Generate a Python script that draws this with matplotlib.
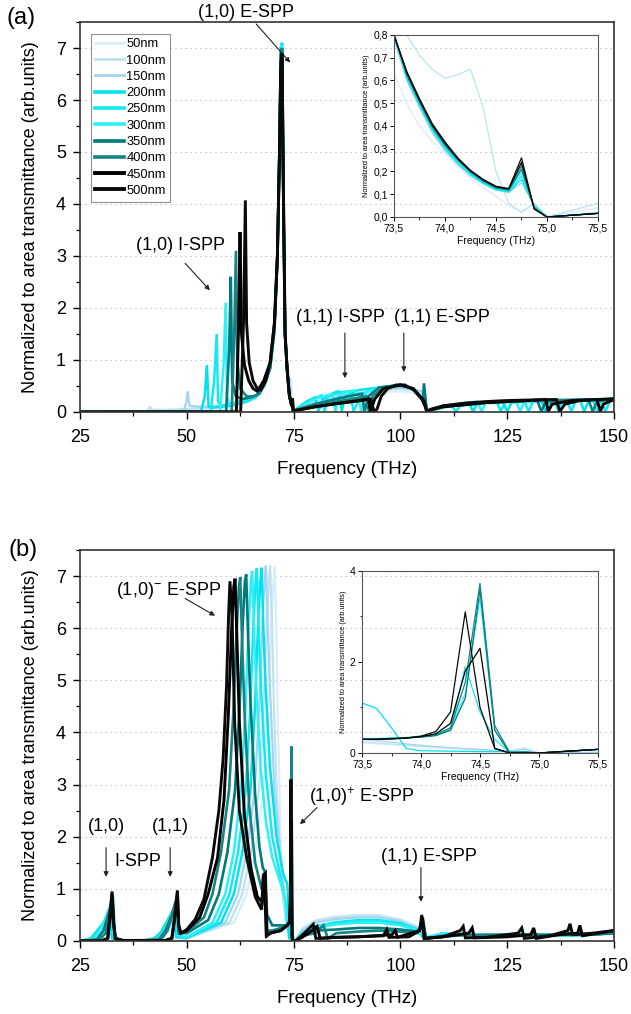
import matplotlib
matplotlib.use("Agg")
import matplotlib.pyplot as plt
from matplotlib.ticker import MultipleLocator

plt.rcParams['font.family'] = ['Liberation Sans', 'DejaVu Sans']
plt.rcParams['mathtext.fontset'] = 'custom'
plt.rcParams['mathtext.rm'] = 'Liberation Sans'
plt.rcParams['mathtext.it'] = 'Liberation Sans:italic'

# ---------------- legend / series meta ----------------
LABELS = ['50nm', '100nm', '150nm', '200nm', '250nm', '300nm', '350nm', '400nm', '450nm', '500nm']
COLORS = ['#d9eef9', '#bde2f3', '#a5d5ee', '#00e2ee', '#14e9f2', '#2ef0f6', '#007a7d', '#168484', '#000000', '#0a0a0a']

# ---------------- panel (a) main data ----------------
A_F_050 = [25, 40, 45, 50, 55, 60, 63, 66, 68, 69.5, 70.5, 71.2, 71.7, 72.0, 72.3, 72.6, 73.0, 73.5, 74.0, 74.5, 74.75, 74.875, 75.0, 75.5, 80, 85, 90, 95, 100, 105, 106.5, 110, 120, 130, 140, 150]
A_V_050 = [0, 0.01, 0.02, 0.04, 0.06, 0.1, 0.15, 0.25, 0.45, 0.8, 1.5, 2.8, 4.8, 6.6, 6.9, 4.0, 1.5, 0.63, 0.28, 0.09, 0.025, 0.06, 0.005, 0.04, 0.15, 0.25, 0.32, 0.38, 0.4, 0.35, 0.02, 0.1, 0.15, 0.18, 0.2, 0.22]

A_F_100 = [25, 40.6, 41.4, 42.0, 45, 50, 55, 60, 63, 66, 68, 69.5, 70.5, 71.2, 71.7, 72.0, 72.3, 72.6, 73.0, 73.5, 74.0, 74.25, 74.375, 74.5, 74.625, 74.75, 74.875, 75.0, 75.5, 80, 85, 90, 95, 100, 105, 106.5, 110, 120, 130, 140, 150]
A_V_100 = [0, 0.01, 0.09, 0.04, 0.04, 0.06, 0.08, 0.12, 0.18, 0.3, 0.5, 0.85, 1.6, 2.9, 5.0, 6.8, 7.0, 4.5, 1.6, 0.95, 0.61, 0.65, 0.48, 0.2, 0.06, 0.02, 0.06, 0.0, 0.06, 0.2, 0.3, 0.36, 0.42, 0.45, 0.4, 0.02, 0.12, 0.18, 0.2, 0.22, 0.25]

A_F_150 = [25, 49.3, 49.9, 50.2, 50.6, 53, 57, 60, 63, 66, 68, 69.5, 70.5, 71.2, 71.7, 72.0, 72.3, 72.6, 73.0, 73.5, 74.0, 74.5, 74.75, 74.875, 75.0, 75.5, 80, 85, 90, 95, 100, 105, 106.5, 110, 120, 130, 140, 150]
A_V_150 = [0, 0.02, 0.2, 0.4, 0.12, 0.1, 0.12, 0.15, 0.2, 0.28, 0.5, 0.85, 1.6, 3.0, 5.1, 6.9, 7.05, 4.3, 1.5, 0.78, 0.29, 0.118, 0.15, 0.05, 0.0, 0.02, 0.18, 0.28, 0.35, 0.42, 0.47, 0.4, 0.02, 0.12, 0.18, 0.2, 0.22, 0.25]

A_F_200 = [25, 53.3, 54.2, 54.7, 55.1, 56, 58, 60, 62, 64, 66, 68, 69.5, 70.5, 71.2, 71.7, 72.0, 72.3, 72.6, 73.0, 73.5, 74.0, 74.5, 74.625, 74.75, 74.875, 75.0, 75.5, 78, 80, 80.8, 82, 84, 85.5, 86.3, 87, 89, 90, 95, 100, 103, 105.5, 106.5, 110, 116, 117, 118, 124, 125, 126, 133, 134, 135, 142, 143, 144, 150]
A_V_200 = [0, 0.0, 0.3, 0.9, 0.1, 0.08, 0.1, 0.12, 0.16, 0.2, 0.28, 0.5, 0.85, 1.6, 3.0, 5.2, 7.0, 7.1, 4.2, 1.5, 0.8, 0.30, 0.12, 0.11, 0.165, 0.05, 0.0, 0.05, 0.2, 0.28, 0.02, 0.25, 0.35, 0.4, 0.02, 0.3, 0.38, 0.42, 0.47, 0.5, 0.45, 0.2, 0.01, 0.1, 0.18, 0.01, 0.17, 0.2, 0.01, 0.18, 0.22, 0.01, 0.2, 0.24, 0.01, 0.2, 0.25]

A_F_250 = [25, 55.6, 56.4, 57.0, 57.3, 58, 60, 62, 64, 66, 68, 69.5, 70.5, 71.2, 71.7, 72.0, 72.3, 72.6, 73.0, 73.5, 74.0, 74.5, 74.625, 74.75, 74.875, 75.0, 75.5, 79, 81.5, 82.3, 83, 86, 88.3, 89, 91, 93, 95, 100, 103, 105.5, 106.5, 112, 113, 114, 122.5, 123.5, 124.5, 129, 130, 131, 139, 140, 141, 147, 148, 149, 150]
A_V_250 = [0, 0.0, 0.6, 1.5, 0.2, 0.12, 0.14, 0.18, 0.22, 0.28, 0.5, 0.85, 1.6, 3.0, 5.2, 7.0, 7.1, 4.2, 1.5, 0.8, 0.305, 0.123, 0.112, 0.18, 0.045, 0.0, 0.05, 0.22, 0.32, 0.01, 0.3, 0.38, 0.4, 0.01, 0.35, 0.42, 0.47, 0.52, 0.45, 0.22, 0.01, 0.12, 0.01, 0.12, 0.2, 0.01, 0.2, 0.22, 0.01, 0.2, 0.23, 0.01, 0.22, 0.24, 0.01, 0.2, 0.24]

A_F_300 = [25, 57.8, 58.6, 59.1, 59.4, 60, 62, 64, 66, 68, 69.5, 70.5, 71.2, 71.7, 72.0, 72.3, 72.6, 73.0, 73.5, 74.0, 74.5, 74.625, 74.75, 74.875, 75.0, 75.5, 80, 84, 84.8, 85.5, 88, 90, 90.8, 92, 95, 100, 103, 105.5, 106.5, 110, 118, 119, 120, 127, 128, 129, 136, 137, 138, 145, 146, 147, 150]
A_V_300 = [0, 0.0, 0.9, 2.1, 0.3, 0.15, 0.2, 0.25, 0.3, 0.5, 0.85, 1.6, 3.0, 5.2, 7.0, 7.05, 4.2, 1.5, 0.8, 0.31, 0.126, 0.115, 0.195, 0.045, 0.0, 0.05, 0.25, 0.35, 0.01, 0.32, 0.4, 0.42, 0.01, 0.38, 0.47, 0.52, 0.45, 0.22, 0.01, 0.12, 0.2, 0.01, 0.2, 0.22, 0.01, 0.2, 0.23, 0.01, 0.22, 0.24, 0.01, 0.2, 0.25]

A_F_350 = [25, 59.2, 59.9, 60.3, 60.6, 61.5, 63, 65, 66.5, 68, 69.5, 70.5, 71.2, 71.7, 72.0, 72.3, 72.6, 73.0, 73.5, 74.0, 74.5, 74.625, 74.75, 74.875, 75.0, 75.5, 80, 85, 89, 91, 91.6, 92.5, 95, 100, 103, 105.3, 105.5, 106.2, 107, 110, 120, 130, 132, 133, 134, 140, 145, 150]
A_V_350 = [0, 0.0, 1.2, 2.6, 0.6, 0.3, 0.25, 0.28, 0.33, 0.5, 0.85, 1.6, 3.0, 5.2, 6.9, 7.0, 4.2, 1.5, 0.8, 0.315, 0.128, 0.118, 0.21, 0.04, 0.0, 0.04, 0.15, 0.25, 0.32, 0.35, 0.01, 0.3, 0.47, 0.52, 0.45, 0.22, 0.55, 0.01, 0.04, 0.1, 0.18, 0.22, 0.23, 0.01, 0.2, 0.22, 0.24, 0.26]

A_F_400 = [25, 60.5, 61.1, 61.5, 61.8, 62.5, 64, 65.5, 67, 68.5, 69.5, 70.5, 71.2, 71.7, 72.0, 72.3, 72.6, 73.0, 73.5, 74.0, 74.5, 74.625, 74.75, 74.875, 75.0, 75.5, 80, 85, 90, 92, 92.6, 93.5, 96, 100, 103, 105.5, 106.2, 107, 110, 120, 130, 144, 145, 146, 150]
A_V_400 = [0, 0.0, 1.5, 3.1, 1.0, 0.45, 0.3, 0.3, 0.35, 0.6, 0.85, 1.55, 2.9, 5.0, 6.8, 7.0, 4.2, 1.5, 0.8, 0.32, 0.13, 0.12, 0.225, 0.04, 0.0, 0.03, 0.12, 0.2, 0.27, 0.3, 0.01, 0.3, 0.47, 0.52, 0.45, 0.22, 0.01, 0.04, 0.1, 0.18, 0.22, 0.24, 0.01, 0.2, 0.26]

A_F_450 = [25, 61.6, 62.1, 62.45, 62.8, 63.5, 64.5, 65.5, 66.5, 68, 69.5, 70.5, 71.2, 71.7, 72.0, 72.3, 72.6, 73.0, 73.5, 74.0, 74.5, 74.625, 74.75, 74.875, 75.0, 75.5, 80, 85, 90, 92.5, 93, 94, 96, 100, 103, 105.5, 106.2, 107, 110, 120, 130, 134, 134.6, 135.5, 140, 146, 146.8, 147.5, 150]
A_V_450 = [0, 0.0, 1.6, 3.46, 1.5, 0.9, 0.6, 0.45, 0.4, 0.6, 0.95, 1.7, 3.0, 5.0, 6.7, 6.9, 4.3, 1.5, 0.8, 0.325, 0.133, 0.123, 0.24, 0.035, 0.0, 0.03, 0.1, 0.16, 0.22, 0.25, 0.01, 0.25, 0.45, 0.52, 0.45, 0.22, 0.0, 0.04, 0.1, 0.18, 0.22, 0.24, 0.01, 0.15, 0.22, 0.24, 0.01, 0.15, 0.24]

A_F_500 = [25, 62.6, 63.3, 63.7, 64.0, 64.6, 65.5, 66.5, 67.3, 68.5, 69.5, 70.5, 71.2, 71.7, 72.0, 72.3, 72.6, 73.0, 73.5, 74.0, 74.5, 74.625, 74.75, 74.875, 75.0, 75.5, 80, 85, 90, 93, 93.8, 94.5, 95.5, 97, 99, 101, 103, 105, 105.8, 106.2, 107, 110, 115, 120, 125, 130, 136.5, 137.3, 138.5, 142, 147, 150]
A_V_500 = [0, 0.0, 1.8, 4.07, 1.7, 0.95, 0.6, 0.45, 0.42, 0.6, 0.95, 1.7, 3.0, 4.9, 6.5, 6.8, 4.3, 1.5, 0.8, 0.33, 0.135, 0.125, 0.26, 0.035, 0.0, 0.03, 0.1, 0.16, 0.21, 0.25, 0.02, 0.05, 0.3, 0.45, 0.52, 0.52, 0.43, 0.25, 0.1, 0.0, 0.05, 0.12, 0.17, 0.2, 0.22, 0.23, 0.24, 0.01, 0.15, 0.22, 0.24, 0.25]

# ---------------- panel (b) main data ----------------
B_F_050 = [25, 27, 29, 30.5, 31.5, 32.0, 32.5, 35, 40, 42, 44, 45.5, 46.5, 47.0, 47.5, 50, 61, 64, 66, 68, 69, 69.8, 70.3, 70.6, 71.0, 71.3, 72, 72.5, 73.5, 74.0, 74.5, 74.75, 74.875, 75.0, 75.5, 77, 80, 85, 90, 95, 100, 104, 105, 106, 110, 120, 130, 140, 150]
B_V_050 = [0, 0.02, 0.1, 0.18, 0.25, 0.3, 0.05, 0.02, 0.02, 0.04, 0.1, 0.2, 0.3, 0.35, 0.05, 0.05, 0.35, 0.9, 1.7, 2.9, 4.4, 6.1, 6.9, 7.18, 5.9, 4.3, 1.8, 0.8, 0.22, 0.12, 0.05, 0.04, 0.12, 0.0, 0.01, 0.25, 0.4, 0.48, 0.5, 0.5, 0.42, 0.28, 0.12, 0.08, 0.15, 0.12, 0.12, 0.12, 0.15]

B_F_100 = [25, 27, 29, 30.5, 31.5, 32.0, 32.5, 35, 40, 42, 44, 45.5, 46.5, 47.0, 47.5, 50, 60, 63, 65, 66.9, 67.9, 68.7, 69.2, 69.5, 70.0, 70.3, 71, 72, 72.7, 73.5, 74.0, 74.5, 74.75, 74.875, 75.0, 75.5, 77, 80, 85, 90, 95, 100, 104, 105, 106, 110, 120, 130, 140, 150]
B_V_100 = [0, 0.03, 0.12, 0.2, 0.3, 0.35, 0.05, 0.02, 0.02, 0.05, 0.12, 0.25, 0.35, 0.4, 0.06, 0.05, 0.35, 0.9, 1.7, 2.9, 4.4, 6.1, 6.9, 7.2, 5.9, 4.8, 2.9, 1.5, 0.7, 0.22, 0.13, 0.05, 0.04, 0.1, 0.0, 0.01, 0.22, 0.38, 0.45, 0.48, 0.48, 0.4, 0.26, 0.12, 0.08, 0.15, 0.12, 0.12, 0.12, 0.15]

B_F_150 = [25, 27, 29, 30.5, 31.5, 32.0, 32.5, 35, 40, 42, 44, 45.5, 46.5, 47.0, 47.5, 50, 59, 62, 64, 65.9, 66.9, 67.7, 68.2, 68.5, 69.0, 69.5, 70.5, 72, 73, 73.5, 74.0, 74.5, 74.75, 74.875, 75.0, 75.5, 77, 80, 85, 90, 95, 100, 104, 105, 106, 110, 120, 130, 140, 150]
B_V_150 = [0, 0.03, 0.15, 0.25, 0.35, 0.4, 0.05, 0.02, 0.02, 0.05, 0.15, 0.3, 0.4, 0.45, 0.06, 0.05, 0.35, 0.9, 1.7, 2.9, 4.4, 6.1, 6.9, 7.2, 5.9, 4.8, 2.9, 1.6, 0.8, 0.25, 0.15, 0.05, 0.04, 0.1, 0.0, 0.01, 0.2, 0.35, 0.42, 0.45, 0.45, 0.38, 0.25, 0.12, 0.08, 0.15, 0.12, 0.12, 0.12, 0.15]

B_F_200 = [25, 27.5, 29, 30.5, 31.5, 32.0, 32.5, 35, 40, 42.5, 44, 45.5, 46.5, 47.0, 47.5, 50, 58, 61, 63, 64.9, 65.9, 66.7, 67.2, 67.5, 68.0, 68.5, 69.5, 71, 72.5, 73.5, 73.625, 73.75, 73.875, 74.0, 74.5, 74.75, 75.0, 75.5, 77, 80, 85, 90, 95, 100, 104, 105, 106, 110, 120, 130, 140, 150]
B_V_200 = [0, 0.05, 0.2, 0.35, 0.5, 0.6, 0.05, 0.01, 0.01, 0.05, 0.18, 0.4, 0.55, 0.6, 0.08, 0.06, 0.35, 0.9, 1.7, 2.9, 4.4, 6.1, 6.9, 7.16, 5.8, 4.8, 3.3, 2.0, 1.3, 1.1, 0.98, 0.55, 0.1, 0.05, 0.04, 0.03, 0.0, 0.02, 0.15, 0.28, 0.36, 0.4, 0.4, 0.34, 0.22, 0.1, 0.05, 0.14, 0.1, 0.12, 0.1, 0.15]

B_F_250 = [25, 28, 29.5, 30.8, 31.7, 32.3, 32.8, 35, 40, 43, 44.5, 46, 46.8, 47.3, 47.8, 50, 57, 60, 62, 63.8, 64.8, 65.6, 66.1, 66.4, 66.9, 67.4, 68.5, 70, 71.5, 72.5, 73.2, 73.5, 74.0, 74.25, 74.375, 74.5, 74.625, 74.75, 75.0, 75.5, 77, 80, 85, 90, 95, 100, 104, 105, 106, 110, 120, 130, 140, 150]
B_V_250 = [0, 0.05, 0.2, 0.4, 0.6, 0.7, 0.05, 0.01, 0.01, 0.05, 0.2, 0.45, 0.6, 0.68, 0.1, 0.07, 0.35, 0.9, 1.7, 2.9, 4.4, 6.1, 6.9, 7.15, 5.8, 4.8, 3.2, 2.0, 1.4, 1.0, 0.7, 0.35, 0.36, 0.5, 1.9, 0.9, 0.3, 0.02, 0.0, 0.02, 0.15, 0.28, 0.35, 0.38, 0.38, 0.32, 0.22, 0.1, 0.05, 0.14, 0.1, 0.12, 0.1, 0.15]

B_F_300 = [25, 28.5, 30, 31.2, 32.0, 32.5, 33.0, 35, 40, 43.5, 45, 46.3, 47.0, 47.5, 48.0, 50, 56, 59, 61, 62.7, 63.7, 64.5, 65.0, 65.3, 65.8, 66.3, 67.3, 68.5, 70, 72, 73.0, 73.5, 74.0, 74.25, 74.375, 74.5, 74.625, 74.75, 75.0, 75.5, 77, 80, 85, 90, 95, 100, 104, 105, 106, 110, 115, 120, 125, 130, 135, 140, 145, 150]
B_V_300 = [0, 0.05, 0.25, 0.45, 0.65, 0.75, 0.05, 0.01, 0.01, 0.05, 0.25, 0.5, 0.65, 0.72, 0.12, 0.08, 0.35, 0.9, 1.7, 2.9, 4.4, 6.1, 6.9, 7.1, 5.8, 4.8, 3.3, 2.3, 1.6, 1.1, 0.8, 0.32, 0.37, 0.55, 1.3, 3.4, 0.5, 0.02, 0.0, 0.02, 0.15, 0.25, 0.32, 0.35, 0.35, 0.3, 0.2, 0.1, 0.05, 0.15, 0.12, 0.1, 0.12, 0.1, 0.12, 0.1, 0.12, 0.15]

B_F_350 = [25, 29, 30.5, 31.8, 32.3, 32.6, 33.1, 35, 40, 43.5, 45, 46.5, 47.2, 47.6, 48.1, 50, 55, 57.5, 59.5, 61.3, 62.3, 63.1, 63.6, 63.9, 64.4, 64.9, 66, 67, 67.8, 68.2, 68.8, 70, 72, 73.5, 74.0, 74.25, 74.375, 74.5, 74.625, 74.75, 75.0, 75.5, 78, 80, 85, 90, 95, 100, 104, 105.3, 106, 110, 120, 130, 140, 150]
B_V_350 = [0, 0.03, 0.2, 0.55, 0.7, 0.8, 0.05, 0.01, 0.01, 0.03, 0.2, 0.5, 0.7, 0.8, 0.15, 0.15, 0.4, 0.9, 1.7, 2.9, 4.4, 6.1, 6.9, 7.03, 5.7, 4.6, 2.8, 1.8, 1.4, 1.35, 0.5, 0.3, 0.3, 0.3, 0.35, 0.5, 1.2, 3.6, 0.5, 0.0, 0.02, 0.0, 0.15, 0.2, 0.22, 0.25, 0.25, 0.22, 0.18, 0.35, 0.05, 0.1, 0.12, 0.12, 0.12, 0.15]

B_F_400 = [25, 29.5, 31, 32.0, 32.4, 32.7, 33.2, 35, 40, 44, 45.5, 46.8, 47.4, 47.7, 48.2, 50, 54, 56, 58, 59.9, 60.9, 61.7, 62.2, 62.5, 63.0, 63.5, 64.6, 66, 67.5, 68.1, 68.7, 70, 72, 73.5, 74.0, 74.25, 74.375, 74.5, 74.625, 74.75, 75.0, 75.5, 77, 80, 82, 83, 85, 90, 95, 100, 104, 105.3, 106, 110, 115, 120, 125, 130, 135, 140, 145, 150]
B_V_400 = [0, 0.02, 0.15, 0.55, 0.75, 0.85, 0.05, 0.01, 0.01, 0.03, 0.2, 0.55, 0.75, 0.85, 0.15, 0.18, 0.45, 0.9, 1.7, 2.9, 4.4, 6.0, 6.8, 6.98, 5.6, 4.4, 2.6, 1.5, 1.0, 1.3, 0.2, 0.2, 0.25, 0.3, 0.36, 0.55, 1.55, 3.73, 0.6, 0.02, 0.02, 0.0, 0.1, 0.15, 0.3, 0.05, 0.15, 0.18, 0.2, 0.18, 0.15, 0.4, 0.05, 0.08, 0.12, 0.1, 0.12, 0.12, 0.1, 0.15, 0.12, 0.15]

B_F_450 = [25, 30, 31.5, 32.0, 32.5, 32.8, 33.3, 35, 40, 45, 46.5, 47.2, 47.8, 48.1, 48.6, 50, 53, 55, 57.2, 58.7, 59.7, 60.5, 61.0, 61.3, 61.8, 62.3, 63.5, 65, 66.5, 67.6, 68.1, 68.6, 69.5, 72, 73.5, 74.0, 74.25, 74.375, 74.5, 74.625, 74.75, 75.0, 75.5, 78, 80.5, 81.2, 85, 90, 98, 98.8, 99.3, 104.5, 105.2, 105.7, 110, 116, 116.8, 117.3, 125, 130.5, 131.2, 131.8, 137, 141.5, 142, 142.6, 150]
B_V_450 = [0, 0.0, 0.05, 0.45, 0.9, 0.35, 0.05, 0.01, 0.01, 0.01, 0.05, 0.45, 0.92, 0.3, 0.15, 0.2, 0.45, 0.9, 1.6, 2.7, 4.3, 6.0, 6.8, 6.95, 5.6, 4.2, 2.4, 1.4, 0.85, 0.75, 1.3, 0.1, 0.15, 0.2, 0.3, 0.35, 0.65, 1.8, 2.3, 0.1, 0.0, 0.0, 0.0, 0.12, 0.28, 0.05, 0.07, 0.08, 0.12, 0.2, 0.07, 0.2, 0.45, 0.05, 0.08, 0.15, 0.25, 0.06, 0.08, 0.12, 0.25, 0.05, 0.12, 0.15, 0.3, 0.1, 0.2]

B_F_500 = [25, 30, 31.5, 32.0, 32.5, 32.8, 33.3, 35, 40, 45, 46.5, 47.2, 47.8, 48.1, 48.6, 50, 52, 54, 56, 57.5, 58.5, 59.3, 59.8, 60.1, 60.6, 61.2, 62.3, 64, 66, 67.5, 67.9, 68.4, 68.8, 69.5, 72, 73.5, 74.0, 74.25, 74.375, 74.5, 74.625, 74.75, 75.0, 75.5, 77.5, 79.6, 80.2, 85, 90, 96, 96.8, 97.3, 102, 104.5, 105.0, 105.5, 110, 114, 114.7, 115.2, 120, 127.5, 128.4, 129, 135, 139.2, 139.7, 140.3, 145, 150]
B_V_500 = [0, 0.0, 0.05, 0.5, 0.95, 0.4, 0.05, 0.01, 0.01, 0.01, 0.05, 0.5, 0.97, 0.3, 0.15, 0.22, 0.42, 0.8, 1.6, 2.5, 3.5, 4.9, 6.3, 6.9, 6.2, 4.2, 2.5, 1.6, 0.85, 0.6, 1.25, 1.3, 0.1, 0.15, 0.2, 0.3, 0.37, 0.9, 3.1, 1.0, 0.1, 0.0, 0.0, 0.0, 0.15, 0.32, 0.05, 0.07, 0.08, 0.1, 0.22, 0.07, 0.08, 0.2, 0.5, 0.05, 0.08, 0.2, 0.28, 0.06, 0.07, 0.15, 0.25, 0.05, 0.1, 0.2, 0.33, 0.12, 0.15, 0.2]

# ---------------- inset data (common frequency grid) ----------------
INS_F = [73.5, 73.625, 73.75, 73.875, 74.0, 74.125, 74.25, 74.375, 74.5, 74.625, 74.75, 74.875, 75.0, 75.125, 75.25, 75.375, 75.5]

IA_050 = [0.63, 0.5, 0.4, 0.33, 0.28, 0.22, 0.17, 0.13, 0.09, 0.05, 0.025, 0.06, 0.005, 0.01, 0.02, 0.03, 0.04]
IA_100 = [0.95, 0.8, 0.71, 0.65, 0.61, 0.625, 0.65, 0.48, 0.2, 0.06, 0.02, 0.06, 0.0, 0.015, 0.03, 0.045, 0.06]
IA_150 = [0.78, 0.6, 0.48, 0.37, 0.29, 0.23, 0.18, 0.145, 0.118, 0.108, 0.15, 0.05, 0.0, 0.005, 0.01, 0.015, 0.02]
IA_200 = [0.8, 0.61, 0.49, 0.38, 0.30, 0.236, 0.186, 0.148, 0.12, 0.11, 0.165, 0.05, 0.0, 0.004, 0.008, 0.012, 0.016]
IA_250 = [0.8, 0.615, 0.495, 0.385, 0.305, 0.24, 0.19, 0.151, 0.123, 0.112, 0.18, 0.045, 0.0, 0.004, 0.008, 0.012, 0.016]
IA_300 = [0.8, 0.62, 0.5, 0.39, 0.31, 0.245, 0.193, 0.154, 0.126, 0.115, 0.195, 0.045, 0.0, 0.004, 0.008, 0.012, 0.016]
IA_350 = [0.8, 0.625, 0.505, 0.395, 0.315, 0.25, 0.197, 0.157, 0.128, 0.118, 0.21, 0.04, 0.0, 0.004, 0.008, 0.012, 0.016]
IA_400 = [0.8, 0.63, 0.51, 0.40, 0.32, 0.253, 0.2, 0.16, 0.13, 0.12, 0.225, 0.04, 0.0, 0.004, 0.008, 0.012, 0.016]
IA_450 = [0.8, 0.635, 0.515, 0.405, 0.325, 0.257, 0.203, 0.163, 0.133, 0.123, 0.24, 0.035, 0.0, 0.004, 0.008, 0.012, 0.016]
IA_500 = [0.8, 0.64, 0.52, 0.41, 0.33, 0.26, 0.205, 0.165, 0.135, 0.125, 0.26, 0.035, 0.0, 0.004, 0.008, 0.012, 0.016]

IB_050 = [0.22, 0.2, 0.18, 0.16, 0.14, 0.12, 0.1, 0.08, 0.06, 0.05, 0.04, 0.12, 0.0, 0.005, 0.01, 0.01, 0.015]
IB_100 = [0.25, 0.22, 0.2, 0.17, 0.15, 0.13, 0.11, 0.09, 0.07, 0.05, 0.04, 0.1, 0.0, 0.005, 0.01, 0.01, 0.015]
IB_150 = [0.3, 0.27, 0.24, 0.2, 0.17, 0.14, 0.12, 0.1, 0.08, 0.06, 0.04, 0.08, 0.0, 0.005, 0.01, 0.01, 0.015]
IB_200 = [1.1, 0.98, 0.55, 0.1, 0.05, 0.045, 0.04, 0.035, 0.03, 0.03, 0.03, 0.02, 0.0, 0.02, 0.04, 0.06, 0.08]
IB_250 = [0.3, 0.31, 0.32, 0.33, 0.35, 0.4, 0.5, 1.9, 0.9, 0.3, 0.02, 0.02, 0.0, 0.02, 0.04, 0.06, 0.08]
IB_300 = [0.31, 0.32, 0.33, 0.34, 0.37, 0.42, 0.55, 1.3, 3.4, 0.5, 0.02, 0.02, 0.0, 0.02, 0.04, 0.06, 0.08]
IB_350 = [0.3, 0.31, 0.32, 0.33, 0.35, 0.38, 0.5, 1.2, 3.6, 0.5, 0.0, 0.02, 0.0, 0.02, 0.04, 0.06, 0.08]
IB_400 = [0.3, 0.3, 0.32, 0.33, 0.36, 0.4, 0.55, 1.55, 3.73, 0.6, 0.02, 0.02, 0.0, 0.02, 0.04, 0.06, 0.08]
IB_450 = [0.3, 0.3, 0.31, 0.33, 0.36, 0.42, 0.65, 1.8, 2.3, 0.1, 0.0, 0.0, 0.0, 0.02, 0.04, 0.06, 0.08]
IB_500 = [0.3, 0.3, 0.31, 0.33, 0.37, 0.47, 0.9, 3.1, 1.0, 0.1, 0.0, 0.0, 0.0, 0.02, 0.04, 0.06, 0.08]

# ---------------- ticks ----------------
MAIN_XTICKS = [25, 50, 75, 100, 125, 150]
MAIN_YTICKS = [0, 1, 2, 3, 4, 5, 6, 7]
IA_XTICKS = [73.5, 74.0, 74.5, 75.0, 75.5]
IA_XTICKLABELS = ['73,5', '74,0', '74,5', '75,0', '75,5']
IA_YTICKS = [0.0, 0.1, 0.2, 0.3, 0.4, 0.5, 0.6, 0.7, 0.8]
IA_YTICKLABELS = ['0,0', '0,1', '0,2', '0,3', '0,4', '0,5', '0,6', '0,7', '0,8']
IB_YTICKS = [0, 2, 4]
IB_YTICKLABELS = ['0', '2', '4']

A_SERIES = [(A_F_050, A_V_050), (A_F_100, A_V_100), (A_F_150, A_V_150), (A_F_200, A_V_200), (A_F_250, A_V_250),
            (A_F_300, A_V_300), (A_F_350, A_V_350), (A_F_400, A_V_400), (A_F_450, A_V_450), (A_F_500, A_V_500)]
B_SERIES = [(B_F_050, B_V_050), (B_F_100, B_V_100), (B_F_150, B_V_150), (B_F_200, B_V_200), (B_F_250, B_V_250),
            (B_F_300, B_V_300), (B_F_350, B_V_350), (B_F_400, B_V_400), (B_F_450, B_V_450), (B_F_500, B_V_500)]
IA_SERIES = [IA_050, IA_100, IA_150, IA_200, IA_250, IA_300, IA_350, IA_400, IA_450, IA_500]
IB_SERIES = [IB_050, IB_100, IB_150, IB_200, IB_250, IB_300, IB_350, IB_400, IB_450, IB_500]

LW_MAIN = [1.6, 1.6, 1.6, 1.8, 1.8, 1.8, 1.9, 1.9, 2.1, 2.1]

YLABEL = 'Normalized to area transmittance (arb.units)'
XLABEL = 'Frequency (THz)'

fig = plt.figure(figsize=(6.31, 10.14), dpi=100)
axA = fig.add_axes([0.1268, 0.5937, 0.8463, 0.3846])
axB = fig.add_axes([0.1268, 0.0720, 0.8463, 0.3856])


def style_main(ax):
    ax.set_xlim(25, 150)
    ax.set_ylim(0, 7.5)
    ax.set_xticks(MAIN_XTICKS)
    ax.set_yticks(MAIN_YTICKS)
    ax.xaxis.set_minor_locator(MultipleLocator(12.5))
    ax.yaxis.set_minor_locator(MultipleLocator(0.5))
    ax.tick_params(which='major', direction='out', length=5, width=1.0, labelsize=13, pad=5)
    ax.tick_params(which='minor', direction='out', length=3, width=0.9)
    ax.tick_params(axis='x', which='major', pad=7)
    for s in ax.spines.values():
        s.set_color('#333333')
        s.set_linewidth(1.2)
    ax.yaxis.grid(True, linestyle=(0, (1, 3.5)), color='#b0b0b0', linewidth=0.8)
    ax.set_axisbelow(True)
    ax.set_xlabel(XLABEL, fontsize=13.5, labelpad=11)
    ax.set_ylabel(YLABEL, fontsize=13, labelpad=12)


def style_inset(ax, ylim, yticks, yticklabels):
    ax.set_facecolor('none')
    ax.set_xlim(73.5, 75.5)
    ax.set_ylim(*ylim)
    ax.set_xticks(IA_XTICKS)
    ax.set_xticklabels(IA_XTICKLABELS)
    ax.set_yticks(yticks)
    ax.set_yticklabels(yticklabels)
    ax.xaxis.set_minor_locator(MultipleLocator(0.25))
    ax.tick_params(which='major', direction='out', length=3, width=0.7, labelsize=7.5, pad=1.5)
    ax.tick_params(which='minor', direction='out', length=1.8, width=0.6)
    for s in ax.spines.values():
        s.set_color('#555555')
        s.set_linewidth(0.8)
    ax.set_xlabel(XLABEL, fontsize=7.5, labelpad=2)
    ax.set_ylabel(YLABEL, fontsize=5.3, labelpad=2)


for ax, series in ((axA, A_SERIES), (axB, B_SERIES)):
    for (f, v), c, lab, lw in zip(series, COLORS, LABELS, LW_MAIN):
        ax.plot(f, v, color=c, lw=lw, label=lab, solid_joinstyle='miter')
    style_main(ax)

leg = axA.legend(loc='upper left', bbox_to_anchor=(0.02, 0.97), fontsize=9.3, frameon=True, fancybox=False,
                 edgecolor='#777777', labelspacing=0.33, handlelength=2.2, handletextpad=0.2,
                 borderpad=0.35, borderaxespad=0)
leg.get_frame().set_linewidth(0.8)
for h, lw in zip(leg.get_lines(), [2.0, 2.0, 2.0, 2.6, 2.6, 2.6, 2.6, 2.6, 2.8, 2.8]):
    h.set_linewidth(lw)

insA = fig.add_axes([0.6244, 0.786, 0.3233, 0.1795])
for vals, c in zip(IA_SERIES, COLORS):
    insA.plot(INS_F, vals, color=c, lw=0.9)
style_inset(insA, (0, 0.8), IA_YTICKS, IA_YTICKLABELS)

insB = fig.add_axes([0.5737, 0.2574, 0.374, 0.1795])
for vals, c in zip(IB_SERIES, COLORS):
    insB.plot(INS_F, vals, color=c, lw=0.9)
style_inset(insB, (0, 4), IB_YTICKS, IB_YTICKLABELS)
insB.yaxis.set_minor_locator(MultipleLocator(1))

# ---------------- annotations ----------------
AP = dict(arrowstyle='-|>', color='#222222', lw=0.8, mutation_scale=7, shrinkA=0, shrinkB=0)
FS = 13

axA.annotate('(1,0) E-SPP', xy=(74.2, 6.72), xytext=(63.9, 7.68), ha='center', va='center', fontsize=FS,
             arrowprops=AP, annotation_clip=False)
axA.text(48.6, 3.2, '(1,0) I-SPP', ha='center', va='center', fontsize=FS)
axA.annotate('', xy=(55.4, 2.34), xytext=(49.6, 2.86), arrowprops=AP)
axA.text(85.9, 1.82, '(1,1) I-SPP', ha='center', va='center', fontsize=FS)
axA.annotate('', xy=(87.0, 0.65), xytext=(87.0, 1.52), arrowprops=AP)
axA.text(109.7, 1.82, '(1,1) E-SPP', ha='center', va='center', fontsize=FS)
axA.annotate('', xy=(100.8, 0.77), xytext=(100.8, 1.52), arrowprops=AP)

axB.text(45.8, 6.72, '(1,0)$^{-}$ E-SPP', ha='center', va='center', fontsize=FS)
axB.annotate('', xy=(56.6, 6.24), xytext=(49.6, 6.57), arrowprops=AP)
axB.text(91.0, 2.76, '(1,0)$^{+}$ E-SPP', ha='center', va='center', fontsize=FS)
axB.annotate('', xy=(76.5, 2.24), xytext=(80.5, 2.56), arrowprops=AP)
axB.text(31.1, 2.2, '(1,0)', ha='center', va='center', fontsize=FS)
axB.text(46.1, 2.2, '(1,1)', ha='center', va='center', fontsize=FS)
axB.text(38.6, 1.52, 'I-SPP', ha='center', va='center', fontsize=FS)
axB.annotate('', xy=(31.1, 1.23), xytext=(31.1, 1.79), arrowprops=AP)
axB.annotate('', xy=(46.1, 1.23), xytext=(46.1, 1.79), arrowprops=AP)
axB.text(106.7, 1.62, '(1,1) E-SPP', ha='center', va='center', fontsize=FS)
axB.annotate('', xy=(104.8, 0.75), xytext=(104.8, 1.41), arrowprops=AP)

fig.text(0.033, 0.982, '(a)', fontsize=17, ha='center', va='center')
fig.text(0.036, 0.4576, '(b)', fontsize=17, ha='center', va='center')

fig.savefig('out.png', dpi=100, facecolor='white')
